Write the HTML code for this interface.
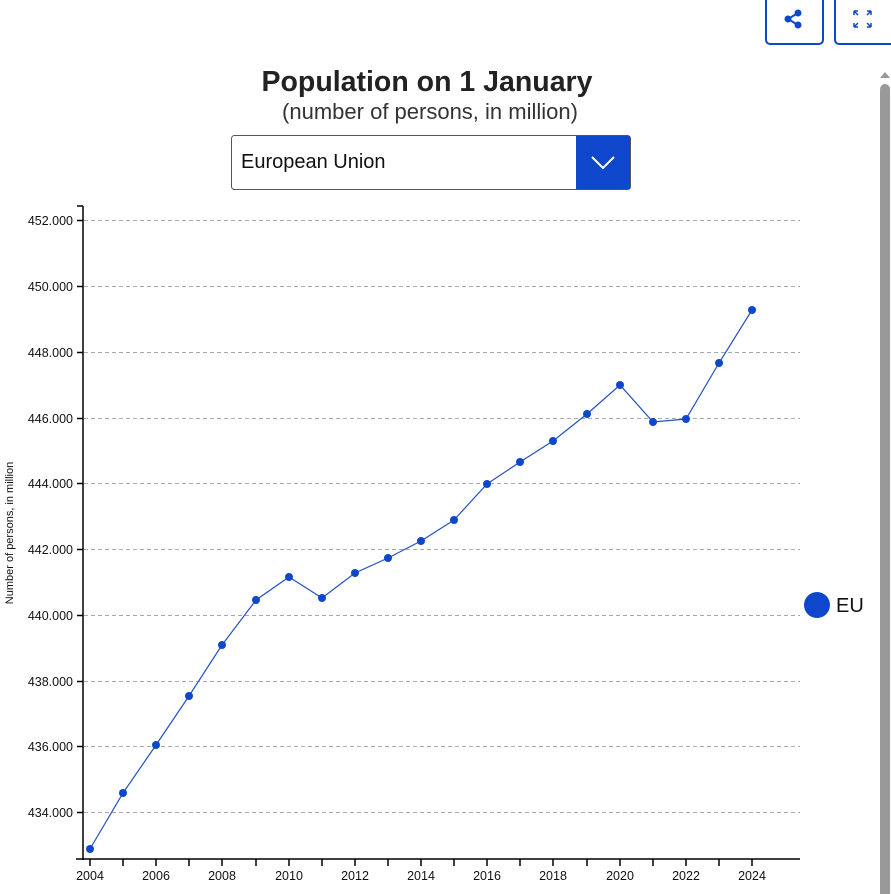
<!DOCTYPE html>
<html><head><meta charset="utf-8"><style>
body{margin:0;width:891px;height:894px;overflow:hidden;background:#fff;font-family:"Liberation Sans",sans-serif;position:relative}
</style></head><body>
<svg width="891" height="894" style="position:absolute;left:0;top:0" font-family="Liberation Sans, sans-serif">
<rect x="766" y="-5" width="57" height="49" rx="4" fill="#fff" stroke="#0e47cb" stroke-width="2"/>
<rect x="835" y="-5" width="60" height="49" rx="4" fill="#fff" stroke="#0e47cb" stroke-width="2"/>
<g fill="#0e47cb" stroke="#0e47cb" stroke-width="2"><line x1="788" y1="19" x2="798" y2="13"/><line x1="788" y1="19" x2="798" y2="25"/></g>
<circle cx="788" cy="19" r="3.5" fill="#0e47cb"/><circle cx="798" cy="13" r="3.5" fill="#0e47cb"/><circle cx="798" cy="25" r="3.5" fill="#0e47cb"/>
<g stroke="#0e47cb" stroke-width="1.5" fill="none"><path d="M854 11h4M854 11v4M854 11l4 4M871 11h-4M871 11v4M871 11l-4 4M854 27h4M854 27v-4M854 27l4-4M871 27h-4M871 27v-4M871 27l-4-4"/></g>
<path d="M880 78l5-6 5 6z" fill="#999"/>
<rect x="880" y="84" width="10" height="820" rx="5" fill="#999"/>
<text x="427" y="91" text-anchor="middle" font-size="28.5" font-weight="bold" fill="#222">Population on 1 January</text>
<text x="430" y="119" text-anchor="middle" font-size="22" fill="#333">(number of persons, in million)</text>
<rect x="231.5" y="135.5" width="399" height="54" rx="3" fill="#fff" stroke="#555"/>
<rect x="576" y="136" width="54" height="53" fill="#0e47cb"/>
<path d="M592 157l11 11 11-11" stroke="#fff" stroke-width="2" fill="none"/>
<text x="241" y="168" font-size="20" fill="#111">European Union</text>
<g stroke="#aaa" stroke-dasharray="4,3" stroke-width="1">
<line x1="84" x2="800" y1="220.5" y2="220.5"/><line x1="84" x2="800" y1="286.5" y2="286.5"/><line x1="84" x2="800" y1="352.5" y2="352.5"/><line x1="84" x2="800" y1="418.5" y2="418.5"/><line x1="84" x2="800" y1="483.5" y2="483.5"/><line x1="84" x2="800" y1="549.5" y2="549.5"/><line x1="84" x2="800" y1="615.5" y2="615.5"/><line x1="84" x2="800" y1="681.5" y2="681.5"/><line x1="84" x2="800" y1="746.5" y2="746.5"/><line x1="84" x2="800" y1="812.5" y2="812.5"/>
</g>
<g stroke="#000" stroke-width="1.5"><line x1="83" y1="206" x2="83" y2="860"/><line x1="77" y1="206" x2="83" y2="206"/><line x1="76" y1="859" x2="800" y2="859"/></g>
<g stroke="#000" stroke-width="1.5">
<line x1="77" x2="83" y1="220.5" y2="220.5"/><line x1="77" x2="83" y1="286.5" y2="286.5"/><line x1="77" x2="83" y1="352.5" y2="352.5"/><line x1="77" x2="83" y1="418.5" y2="418.5"/><line x1="77" x2="83" y1="483.5" y2="483.5"/><line x1="77" x2="83" y1="549.5" y2="549.5"/><line x1="77" x2="83" y1="615.5" y2="615.5"/><line x1="77" x2="83" y1="681.5" y2="681.5"/><line x1="77" x2="83" y1="746.5" y2="746.5"/><line x1="77" x2="83" y1="812.5" y2="812.5"/>
</g>
<g font-size="12.5" text-anchor="end" fill="#111">
<text x="73" y="225">452.000</text><text x="73" y="291">450.000</text><text x="73" y="357">448.000</text><text x="73" y="423">446.000</text><text x="73" y="488">444.000</text><text x="73" y="554">442.000</text><text x="73" y="620">440.000</text><text x="73" y="686">438.000</text><text x="73" y="751">436.000</text><text x="73" y="817">434.000</text>
</g>
<text transform="translate(13,533) rotate(-90)" text-anchor="middle" font-size="11" fill="#111">Number of persons, in million</text>
<g stroke="#000" stroke-width="1.5">
<line x1="90" x2="90" y1="859" y2="866"/><line x1="123" x2="123" y1="859" y2="866"/><line x1="156" x2="156" y1="859" y2="866"/><line x1="189" x2="189" y1="859" y2="866"/><line x1="222" x2="222" y1="859" y2="866"/><line x1="256" x2="256" y1="859" y2="866"/><line x1="289" x2="289" y1="859" y2="866"/><line x1="322" x2="322" y1="859" y2="866"/><line x1="355" x2="355" y1="859" y2="866"/><line x1="388" x2="388" y1="859" y2="866"/><line x1="421" x2="421" y1="859" y2="866"/><line x1="454" x2="454" y1="859" y2="866"/><line x1="487" x2="487" y1="859" y2="866"/><line x1="520" x2="520" y1="859" y2="866"/><line x1="553" x2="553" y1="859" y2="866"/><line x1="587" x2="587" y1="859" y2="866"/><line x1="620" x2="620" y1="859" y2="866"/><line x1="653" x2="653" y1="859" y2="866"/><line x1="686" x2="686" y1="859" y2="866"/><line x1="719" x2="719" y1="859" y2="866"/><line x1="752" x2="752" y1="859" y2="866"/>
</g>
<g font-size="12.5" text-anchor="middle" fill="#111">
<text x="90" y="880">2004</text><text x="156" y="880">2006</text><text x="222" y="880">2008</text><text x="289" y="880">2010</text><text x="355" y="880">2012</text><text x="421" y="880">2014</text><text x="487" y="880">2016</text><text x="553" y="880">2018</text><text x="620" y="880">2020</text><text x="686" y="880">2022</text><text x="752" y="880">2024</text>
</g>
<polyline fill="none" stroke="#2352c0" stroke-width="1.2" points="90,849 123,793 156,745 189,696 222,645 256,600 289,577 322,598 355,573 388,558 421,541 454,520 487,484 520,462 553,441 587,414 620,385 653,422 686,419 719,363 752,310"/>
<g fill="#0e47cb">
<circle cx="90" cy="849" r="4"/><circle cx="123" cy="793" r="4"/><circle cx="156" cy="745" r="4"/><circle cx="189" cy="696" r="4"/><circle cx="222" cy="645" r="4"/><circle cx="256" cy="600" r="4"/><circle cx="289" cy="577" r="4"/><circle cx="322" cy="598" r="4"/><circle cx="355" cy="573" r="4"/><circle cx="388" cy="558" r="4"/><circle cx="421" cy="541" r="4"/><circle cx="454" cy="520" r="4"/><circle cx="487" cy="484" r="4"/><circle cx="520" cy="462" r="4"/><circle cx="553" cy="441" r="4"/><circle cx="587" cy="414" r="4"/><circle cx="620" cy="385" r="4"/><circle cx="653" cy="422" r="4"/><circle cx="686" cy="419" r="4"/><circle cx="719" cy="363" r="4"/><circle cx="752" cy="310" r="4"/>
<circle cx="817" cy="605" r="13"/>
</g>
<text x="836" y="612" font-size="20" fill="#111">EU</text>
</svg>
</body></html>
